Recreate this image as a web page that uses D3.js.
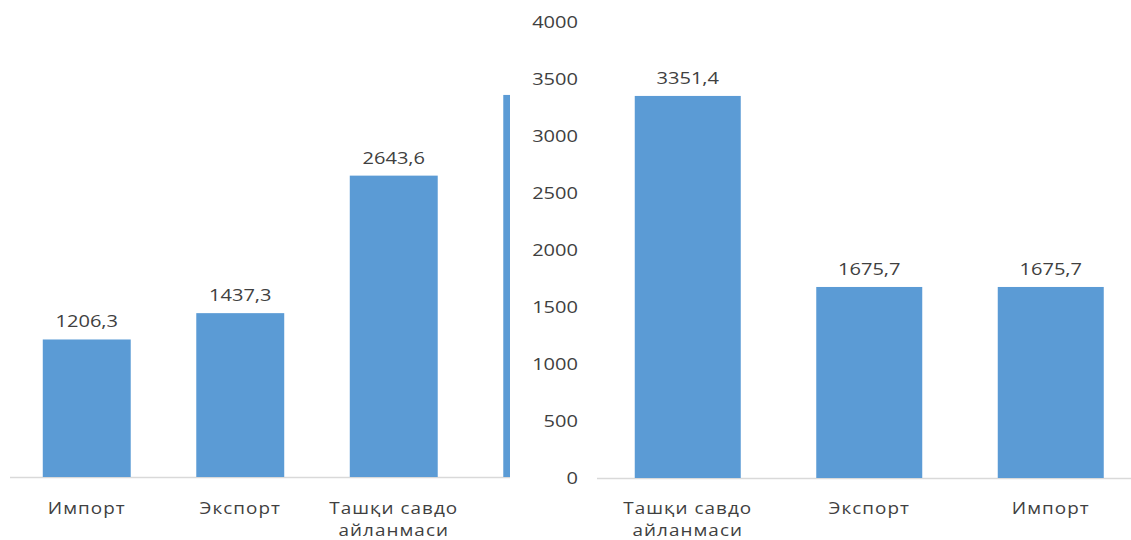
<html>
<head>
<meta charset="utf-8">
<script src="https://d3js.org/d3.v7.min.js"></script>
<style>
  body { margin: 0; background: #fff; }
  text { font-family: "Open Sans", "Noto Sans", sans-serif; fill: #404040; }
</style>
</head>
<body>
<svg id="viz" width="1131" height="540"></svg>
<script>
// left chart: its 4th bar lies under the right chart, only its edge shows
var leftLabels = [["Импорт"], ["Экспорт"], ["Ташқи савдо", "айланмаси"], []];
var leftValues = [1206.3, 1437.3, 2643.6, 3351.4];
var leftShown = [true, true, true, false];   // labels of the hidden bar are not seen

// right chart
var rightLabels = [["Ташқи савдо", "айланмаси"], ["Экспорт"], ["Импорт"]];
var rightValues = [3351.4, 1675.7, 1675.7];
var rightShown = [true, true, true];
var yTicks = [0, 500, 1000, 1500, 2000, 2500, 3000, 3500, 4000];

var barColor = "#5B9BD5";
var gridColor = "#D9D9D9";
var stretch = 1.18;   // text in the picture is wider than normal

var fmt = d3.formatLocale({decimal: ",", thousands: "", grouping: [3], currency: ["", ""]}).format(".1f");

var svg = d3.select("#viz");

svg.append("clipPath")
  .attr("id", "leftClip")
  .append("rect")
    .attr("x", 0).attr("y", 0)
    .attr("width", 510).attr("height", 540);

function stretchedText(g, x, y, str, size, spacing) {
  return g.append("text")
    .attr("transform", "translate(" + x + "," + y + ") scale(" + stretch + ",1)")
    .attr("font-size", size)
    .attr("letter-spacing", spacing || 0)
    .attr("text-anchor", "middle")
    .text(str);
}

function drawBars(g, labels, values, shown, x, y, x0, x1) {
  g.append("line")
    .attr("x1", x0).attr("x2", x1)
    .attr("y1", y(0) + 0.5).attr("y2", y(0) + 0.5)
    .attr("stroke", gridColor)
    .attr("stroke-width", 1.5);

  g.selectAll(".bar")
    .data(values)
    .enter().append("rect")
      .attr("class", "bar")
      .attr("x", function(d, i) { return x(i) })
      .attr("width", x.bandwidth())
      .attr("y", function(d) { return y(d) })
      .attr("height", function(d) { return y(0) - y(d) })
      .attr("fill", barColor);

  values.forEach(function(d, i) {
    if (!shown[i]) return;
    var cx = x(i) + x.bandwidth() / 2;
    stretchedText(g, cx, y(d) - 12, fmt(d), 17, 0);
    labels[i].forEach(function(line, j) {
      stretchedText(g, cx, 514 + j * 22, line, 16, 0.9);
    });
  });
}

// ---- left chart
var gl = svg.append("g").attr("clip-path", "url(#leftClip)");
var xl = d3.scaleBand()
  .domain(d3.range(leftValues.length))
  .range([10, 624])
  .paddingInner(0.427)
  .paddingOuter(0.2135);
var yl = d3.scaleLinear()
  .domain([0, 4000])
  .range([477, 21]);
drawBars(gl, leftLabels, leftValues, leftShown, xl, yl, 10, 624);

// ---- right chart
var gr = svg.append("g");

var xr = d3.scaleBand()
  .domain(d3.range(rightValues.length))
  .range([597, 1141.5])
  .paddingInner(0.416)
  .paddingOuter(0.208);
var yr = d3.scaleLinear()
  .domain([0, 4000])
  .range([478, 22]);

var axis = gr.append("g")
  .attr("transform", "translate(578,0)")
  .call(d3.axisLeft(yr).tickValues(yTicks).tickSize(0).tickPadding(0).tickFormat(d3.format("d")));
axis.select(".domain").remove();
axis.selectAll("text")
  .attr("font-size", 17)
  .attr("font-family", null)
  .attr("fill", "#404040")
  .attr("transform", "scale(" + stretch + ",1)")
  .attr("x", 0)
  .attr("dy", "0.35em");

drawBars(gr, rightLabels, rightValues, rightShown, xr, yr, 597, 1131);
</script>
</body>
</html>
